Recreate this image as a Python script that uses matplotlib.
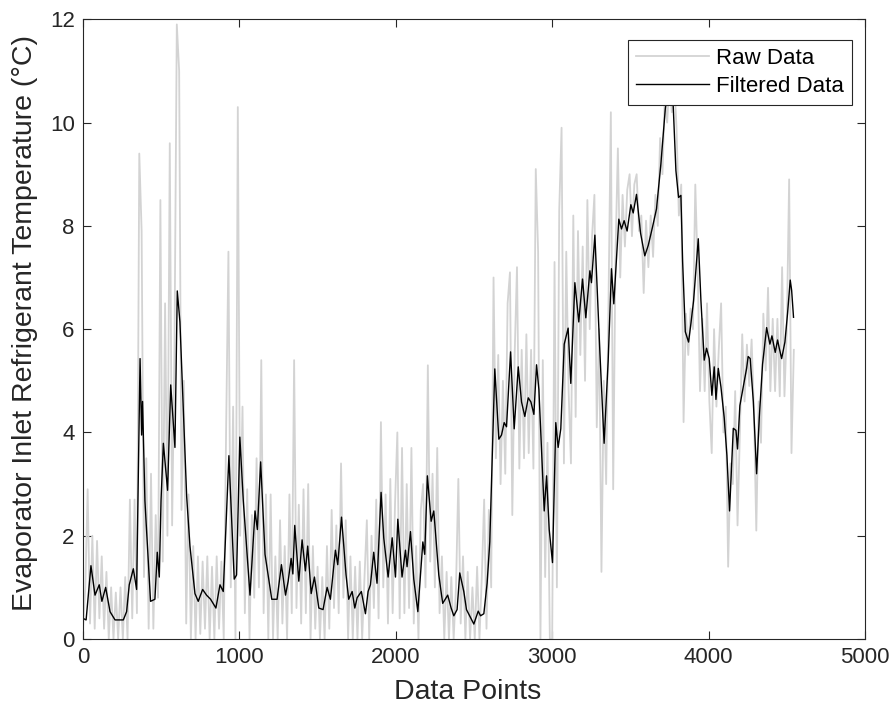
import numpy as np
import matplotlib
matplotlib.use("Agg")
import matplotlib.pyplot as plt

# ---- data -------------------------------------------------------------
# raw sensor readings, one value every `raw_step` data points
raw_step = 15
raw_vals = [
    0.2, 1.0, 2.9, 0.3, 2.0, 0.2, 1.9, 0.4, 1.6, 0.2, 1.3, 0.0, 1.0, 0.0, 0.9, 0.0, 1.0, 0.0, 1.2, 0.0,
    2.7, 0.4, 2.7, 0.5, 9.4, 7.9, 1.2, 3.5, 0.2, 3.2, 0.2, 2.4, 0.8, 8.5, 1.5, 6.5, 2.0, 9.6, 2.2, 5.6,
    11.9, 11.0, 2.5, 5.0, 0.3, 2.8, 0.0, 1.8, 0.0, 1.6, 0.1, 1.5, 0.2, 1.6, 0.0, 1.4, 0.0, 1.6, 0.2, 1.5,
    0.0, 4.0, 7.5, 1.0, 4.5, 0.0, 10.3, 2.0, 4.5, 0.5, 2.9, 0.0, 2.4, 0.8, 3.5, 1.0, 5.4, 0.5, 2.8, 0.0,
    2.8, 0.0, 1.6, 0.0, 2.3, 0.3, 1.8, 0.0, 2.8, 0.5, 5.4, 0.6, 2.6, 0.3, 2.9, 0.5, 3.0, 0.0, 1.8, 0.2,
    1.4, 0.0, 1.2, 0.0, 1.8, 0.2, 2.5, 0.6, 2.2, 0.5, 3.4, 0.8, 2.3, 0.0, 1.6, 0.0, 1.4, 0.0, 1.5, 0.0,
    1.2, 2.3, 0.0, 2.0, 0.6, 2.7, 0.4, 4.2, 1.0, 2.8, 0.3, 3.1, 0.5, 2.6, 4.0, 0.4, 3.7, 0.5, 3.0, 0.6,
    3.7, 0.3, 1.8, 0.0, 2.5, 3.0, 1.0, 5.3, 1.5, 3.2, 1.0, 3.7, 0.5, 1.6, 0.0, 1.3, 0.0, 1.2, 0.0, 1.0,
    3.1, 0.3, 1.6, 0.0, 1.3, 0.0, 1.0, 0.0, 1.4, 0.0, 1.2, 2.7, 0.2, 2.5, 1.0, 7.0, 3.5, 5.5, 3.0, 5.0,
    3.2, 6.5, 7.1, 2.4, 5.5, 7.2, 3.3, 5.6, 3.5, 5.9, 3.6, 5.6, 3.3, 9.1, 7.5, 0.0, 5.4, 1.2, 3.8, 0.0,
    0.0, 7.3, 1.0, 8.3, 9.9, 3.4, 7.5, 4.8, 3.4, 8.2, 4.3, 7.9, 5.5, 7.6, 5.0, 8.5, 6.0, 7.8, 8.6, 4.1,
    6.0, 1.3, 5.0, 3.0, 6.5, 10.2, 2.9, 7.5, 9.5, 7.0, 8.6, 7.6, 8.7, 9.0, 7.8, 8.8, 9.0, 7.9, 8.2, 6.7,
    8.1, 7.2, 8.2, 7.4, 8.6, 8.0, 9.7, 9.0, 10.5, 10.0, 10.8, 10.2, 10.8, 9.9, 8.2, 8.8, 4.2, 6.3, 5.5, 6.4,
    6.0, 8.8, 7.2, 4.8, 6.2, 4.8, 6.5, 4.6, 3.6, 6.0, 4.5, 5.6, 6.5, 4.0, 4.5, 1.4, 3.4, 3.0, 4.8, 2.2,
    4.0, 5.9, 4.6, 5.7, 4.9, 5.8, 4.4, 2.1, 4.6, 3.8, 6.3, 5.2, 6.8, 4.8, 6.2, 4.8, 6.2, 4.7, 7.2, 4.7,
    6.0, 8.9, 3.6, 5.6,
]

# smoothed signal (data point index, temperature)
filt_x = [
    0, 20, 51, 77, 104, 121, 145, 173, 205, 258, 279, 296, 322, 343, 365, 375, 381, 396, 432, 460,
    475, 488, 499, 514, 541, 561, 588, 603, 620, 663, 684, 716, 737, 765, 790, 816, 850, 876, 897, 933,
    967, 982, 1003, 1025, 1068, 1100, 1115, 1136, 1164, 1207, 1241, 1269, 1295, 1312, 1331, 1342, 1354, 1380, 1401, 1422,
    1437, 1459, 1480, 1508, 1535, 1561, 1582, 1614, 1629, 1653, 1682, 1699, 1721, 1738, 1753, 1780, 1806, 1823, 1838, 1859,
    1880, 1906, 1923, 1951, 1977, 1998, 2013, 2040, 2062, 2072, 2094, 2115, 2141, 2173, 2185, 2202, 2226, 2243, 2275, 2300,
    2332, 2354, 2371, 2392, 2409, 2435, 2452, 2499, 2527, 2542, 2563, 2584, 2601, 2633, 2659, 2676, 2693, 2708, 2734, 2757,
    2783, 2804, 2825, 2847, 2864, 2883, 2900, 2915, 2932, 2949, 2964, 2981, 3002, 3023, 3038, 3055, 3077, 3102, 3119, 3145,
    3170, 3194, 3215, 3241, 3251, 3273, 3305, 3332, 3358, 3379, 3394, 3426, 3443, 3460, 3479, 3503, 3518, 3539, 3565, 3592,
    3614, 3641, 3667, 3695, 3723, 3738, 3749, 3759, 3770, 3791, 3808, 3823, 3834, 3851, 3872, 3887, 3904, 3919, 3934, 3951,
    3972, 3987, 4004, 4021, 4036, 4047, 4062, 4079, 4100, 4117, 4134, 4158, 4175, 4185, 4200, 4224, 4243, 4253, 4266, 4286,
    4307, 4324, 4345, 4371, 4392, 4405, 4426, 4441, 4452, 4467, 4488, 4505, 4522, 4531, 4543,
]
filt_y = [
    0.40, 0.37, 1.42, 0.85, 1.05, 0.73, 1.00, 0.53, 0.37, 0.37, 0.53, 1.05, 1.36, 0.96, 5.43, 3.95, 4.60, 2.68, 0.73, 0.77,
    1.68, 1.20, 2.68, 3.79, 2.88, 4.92, 3.71, 6.74, 6.14, 2.76, 1.80, 0.88, 0.73, 0.96, 0.85, 0.77, 0.60, 1.05, 0.92, 3.55,
    1.16, 1.24, 3.91, 2.68, 0.85, 2.48, 2.12, 3.43, 1.64, 0.77, 0.77, 1.44, 0.85, 1.12, 1.56, 1.26, 2.20, 1.12, 1.92, 1.32,
    1.80, 0.88, 1.20, 0.60, 0.57, 1.00, 0.77, 1.72, 1.44, 2.36, 1.24, 0.77, 0.92, 0.60, 0.80, 0.92, 0.49, 0.92, 1.05, 1.68,
    1.08, 2.84, 1.96, 1.20, 1.96, 1.20, 2.32, 1.20, 1.72, 1.40, 2.08, 1.16, 0.53, 1.88, 1.64, 3.16, 2.28, 2.48, 1.24, 0.69,
    0.85, 0.60, 0.45, 0.57, 1.28, 0.92, 0.57, 0.29, 0.54, 0.45, 0.49, 1.08, 1.88, 5.23, 3.87, 3.95, 4.19, 4.11, 5.56, 4.07,
    5.27, 4.59, 4.31, 4.67, 4.59, 4.35, 5.31, 4.83, 3.63, 2.48, 3.16, 2.12, 1.48, 4.19, 3.71, 4.07, 5.71, 6.02, 4.95, 6.90,
    6.14, 6.97, 6.22, 7.13, 6.90, 7.82, 5.55, 3.79, 5.39, 7.17, 6.49, 8.13, 7.94, 8.10, 7.90, 8.41, 8.25, 8.61, 7.86, 7.42,
    7.62, 7.97, 8.33, 9.20, 10.26, 10.60, 10.34, 10.58, 10.60, 9.07, 8.55, 8.59, 7.31, 5.95, 5.75, 6.11, 6.55, 7.15, 7.75, 6.55,
    5.40, 5.63, 5.43, 4.72, 5.27, 4.64, 5.24, 4.88, 4.28, 3.56, 2.48, 4.08, 4.04, 3.68, 4.52, 4.92, 5.24, 5.47, 5.43, 4.60,
    3.20, 4.28, 5.32, 6.03, 5.71, 5.87, 5.55, 5.79, 5.63, 5.43, 5.75, 6.31, 6.95, 6.75, 6.23,
]

x_ticks = [0, 1000, 2000, 3000, 4000, 5000]
y_ticks = [0, 2, 4, 6, 8, 10, 12]

# ---- figure -----------------------------------------------------------
plt.rcParams['font.family'] = ['Liberation Sans', 'DejaVu Sans']
ink = '#262626'

fig = plt.figure(figsize=(8.96, 7.14), dpi=100)
ax = fig.add_axes([0.0926, 0.105, 0.8728, 0.868])

raw_x = np.arange(len(raw_vals)) * raw_step
ax.plot(raw_x, raw_vals, color='#d3d3d3', lw=1.3, label='Raw Data')
ax.plot(filt_x, filt_y, color='black', lw=1.0, label='Filtered Data')

ax.set_xlim(0, 5000)
ax.set_ylim(0, 12)
ax.set_xticks(x_ticks)
ax.set_yticks(y_ticks)
ax.tick_params(direction='in', length=6, width=0.8, colors=ink, labelsize=16,
               top=True, right=True, labeltop=False, labelright=False, pad=6)
for sp in ax.spines.values():
    sp.set_color(ink)
    sp.set_linewidth(0.8)

ax.set_xlabel('Data Points', fontsize=20.5, color=ink)
ax.set_ylabel('Evaporator Inlet Refrigerant Temperature (°C)', fontsize=20.5, color=ink)
ax.xaxis.set_label_coords(0.492, -0.064)
ax.yaxis.set_label_coords(-0.058, 0.51)

leg = ax.legend(loc='upper right', bbox_to_anchor=(0.983, 0.966), borderaxespad=0,
                fontsize=16, handlelength=3.3, handletextpad=0.3, labelspacing=0.3,
                borderpad=0.35, fancybox=False, framealpha=1, edgecolor=ink)
leg.get_frame().set_linewidth(0.8)

fig.savefig('out.png', dpi=100, facecolor='white')
